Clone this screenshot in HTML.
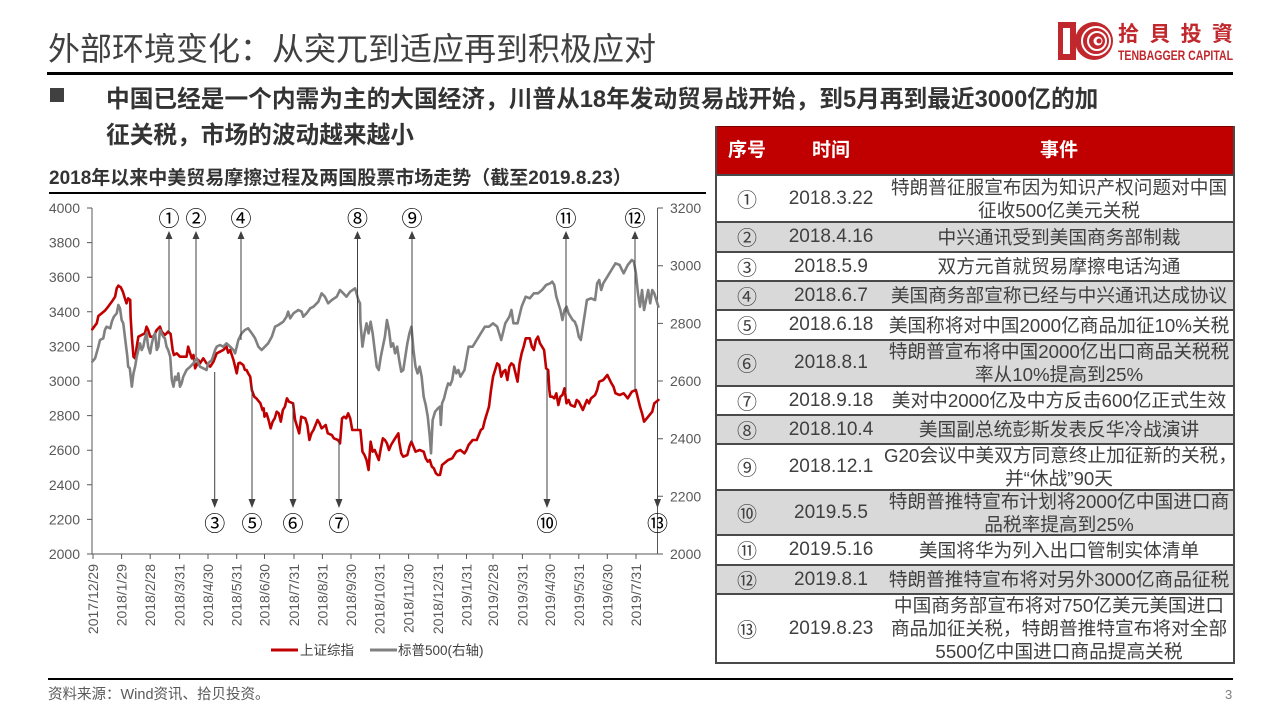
<!DOCTYPE html>
<html><head><meta charset="utf-8">
<style>
*{margin:0;padding:0;box-sizing:border-box}
body{width:1280px;height:720px;position:relative;overflow:hidden;background:#fff;font-family:"Liberation Sans","Noto Sans CJK SC",sans-serif;color:#404040}
.abs{position:absolute;white-space:nowrap}
.row{position:absolute;left:716px;width:518px;display:flex;align-items:center}
.row.g{background:#d9d9d9}
.c1{width:62px;text-align:center;font-family:"Noto Sans CJK SC",sans-serif;font-size:20px;line-height:24px;color:#404040}
.c2{width:106px;text-align:center;font-size:19px;color:#404040}
.c3{width:350px;text-align:center;font-size:18.7px;line-height:23px;color:#404040;white-space:nowrap}
.sep{position:absolute;left:716px;width:518px;height:2px;background:#4a4a4a}
</style></head><body>

<div class="abs" style="left:48px;top:29px;font-size:32px;line-height:36px;color:#404040;font-family:'Noto Sans CJK SC',sans-serif;">外部环境变化：从突兀到适应再到积极应对</div>
<div class="abs" style="left:47px;top:72px;width:1186px;height:3px;background:#000"></div>

<div class="abs" style="left:50px;top:88px;width:14px;height:14px;background:#404040"></div>
<div class="abs" style="left:106px;top:82px;font-size:23.7px;line-height:36px;font-weight:bold;color:#333;">中国已经是一个内需为主的大国经济，川普从18年发动贸易战开始，到5月再到最近3000亿的加<br>征关税，市场的波动越来越小</div>

<div class="abs" style="left:49px;top:167px;font-size:19px;line-height:24px;font-weight:bold;color:#333;">2018年以来中美贸易摩擦过程及两国股票市场走势（截至2019.8.23）</div>
<div class="abs" style="left:49px;top:192px;width:657px;height:1.5px;background:#000"></div>

<!-- table -->
<div class="abs" style="left:715px;top:126px;width:520px;height:50px;background:#c00000;border-top:1px solid #7a0000"></div>
<div class="abs" style="left:716px;top:127px;width:62px;height:48px;line-height:48px;text-align:center;color:#fff;font-weight:bold;font-size:19px">序号</div>
<div class="abs" style="left:778px;top:127px;width:106px;height:48px;line-height:48px;text-align:center;color:#fff;font-weight:bold;font-size:19px">时间</div>
<div class="abs" style="left:884px;top:127px;width:350px;height:48px;line-height:48px;text-align:center;color:#fff;font-weight:bold;font-size:19px">事件</div>

<div class="row" style="top:175px;height:47px"><div class="c1">①</div><div class="c2">2018.3.22</div><div class="c3">特朗普征服宣布因为知识产权问题对中国<br>征收500亿美元关税</div></div>
<div class="row g" style="top:222px;height:30px"><div class="c1">②</div><div class="c2">2018.4.16</div><div class="c3">中兴通讯受到美国商务部制裁</div></div>
<div class="row" style="top:252px;height:29px"><div class="c1">③</div><div class="c2">2018.5.9</div><div class="c3">双方元首就贸易摩擦电话沟通</div></div>
<div class="row g" style="top:281px;height:29px"><div class="c1">④</div><div class="c2">2018.6.7</div><div class="c3">美国商务部宣称已经与中兴通讯达成协议</div></div>
<div class="row" style="top:310px;height:30px"><div class="c1">⑤</div><div class="c2">2018.6.18</div><div class="c3">美国称将对中国2000亿商品加征10%关税</div></div>
<div class="row g" style="top:340px;height:46px"><div class="c1">⑥</div><div class="c2">2018.8.1</div><div class="c3">特朗普宣布将中国2000亿出口商品关税税<br>率从10%提高到25%</div></div>
<div class="row" style="top:386px;height:29px"><div class="c1">⑦</div><div class="c2">2018.9.18</div><div class="c3">美对中2000亿及中方反击600亿正式生效</div></div>
<div class="row g" style="top:415px;height:29px"><div class="c1">⑧</div><div class="c2">2018.10.4</div><div class="c3">美国副总统彭斯发表反华冷战演讲</div></div>
<div class="row" style="top:444px;height:46px"><div class="c1">⑨</div><div class="c2">2018.12.1</div><div class="c3">G20会议中美双方同意终止加征新的关税，<br>并“休战”90天</div></div>
<div class="row g" style="top:490px;height:45px"><div class="c1">⑩</div><div class="c2">2019.5.5</div><div class="c3">特朗普推特宣布计划将2000亿中国进口商<br>品税率提高到25%</div></div>
<div class="row" style="top:535px;height:30px"><div class="c1">⑪</div><div class="c2">2019.5.16</div><div class="c3">美国将华为列入出口管制实体清单</div></div>
<div class="row g" style="top:565px;height:29px"><div class="c1">⑫</div><div class="c2">2019.8.1</div><div class="c3">特朗普推特宣布将对另外3000亿商品征税</div></div>
<div class="row" style="top:594px;height:69px"><div class="c1">⑬</div><div class="c2">2019.8.23</div><div class="c3">中国商务部宣布将对750亿美元美国进口<br>商品加征关税，特朗普推特宣布将对全部<br>5500亿中国进口商品提高关税</div></div>

<div class="sep" style="top:174px"></div>
<div class="sep" style="top:221px"></div>
<div class="sep" style="top:251px"></div>
<div class="sep" style="top:280px"></div>
<div class="sep" style="top:309px"></div>
<div class="sep" style="top:339px"></div>
<div class="sep" style="top:385px"></div>
<div class="sep" style="top:414px"></div>
<div class="sep" style="top:443px"></div>
<div class="sep" style="top:489px"></div>
<div class="sep" style="top:534px"></div>
<div class="sep" style="top:564px"></div>
<div class="sep" style="top:593px"></div>
<div class="sep" style="top:662px"></div>
<div class="abs" style="left:715px;top:126px;width:2px;height:538px;background:#4a4a4a"></div>
<div class="abs" style="left:1233px;top:126px;width:2px;height:538px;background:#4a4a4a"></div>

<!-- footer -->
<div class="abs" style="left:48px;top:678px;width:1185px;height:1.5px;background:#000"></div>
<div class="abs" style="left:48px;top:684px;font-size:14.5px;line-height:22px;color:#595959">资料来源：Wind资讯、拾贝投资。</div>
<div class="abs" style="left:1225px;top:686px;font-size:13px;line-height:18px;color:#808080">3</div>

<svg class="abs" style="left:0;top:0" width="1280" height="720" xmlns="http://www.w3.org/2000/svg">
<!-- logo -->
<g>
<rect x="1058" y="22" width="18" height="38" fill="#c0282d"/>
<rect x="1063" y="28" width="7" height="26" fill="#fff"/>
<circle cx="1094" cy="41" r="19" fill="#c0282d"/>
<circle cx="1096" cy="41" r="14" fill="none" stroke="#fff" stroke-width="2"/>
<circle cx="1097" cy="41" r="9" fill="none" stroke="#fff" stroke-width="2"/>
<circle cx="1098" cy="41" r="4.5" fill="#fff"/>
<circle cx="1099" cy="41" r="2.5" fill="#c0282d"/>
<text x="1118" y="41" font-family="Noto Sans CJK TC,sans-serif" font-weight="bold" font-size="21" fill="#c0282d" textLength="115" lengthAdjust="spacing">拾貝投資</text>
<text x="1118" y="60" font-family="Liberation Sans,sans-serif" font-weight="bold" font-size="14" fill="#c0282d" textLength="115" lengthAdjust="spacingAndGlyphs">TENBAGGER CAPITAL</text>
</g>

<!-- axes -->
<g stroke="#595959" stroke-width="1" fill="none">
<line x1="92" y1="208" x2="92" y2="554"/>
<line x1="657.5" y1="208" x2="657.5" y2="554"/>
<line x1="92" y1="554" x2="657.5" y2="554"/>
<path d="M87 208H92M87 242.6H92M87 277.2H92M87 311.8H92M87 346.4H92M87 381H92M87 415.6H92M87 450.2H92M87 484.8H92M87 519.4H92M87 554H92"/>
<path d="M657.5 208H663M657.5 265.7H663M657.5 323.4H663M657.5 381H663M657.5 438.7H663M657.5 496.3H663M657.5 554H663"/>
<path d="M93 554V559M121.6 554V559M150.2 554V559M179.6 554V559M208 554V559M236.7 554V559M264.5 554V559M294 554V559M322.4 554V559M351 554V559M379.6 554V559M408.6 554V559M438 554V559M466.5 554V559M493 554V559M522.4 554V559M550 554V559M578.8 554V559M607.3 554V559M636 554V559"/>
</g>
<g font-family="Liberation Sans,sans-serif" font-size="14" fill="#595959" text-anchor="end">
<text x="80" y="213">4000</text><text x="80" y="247.6">3800</text><text x="80" y="282.2">3600</text><text x="80" y="316.8">3400</text><text x="80" y="351.4">3200</text><text x="80" y="386">3000</text><text x="80" y="420.6">2800</text><text x="80" y="455.2">2600</text><text x="80" y="489.8">2400</text><text x="80" y="524.4">2200</text><text x="80" y="559">2000</text>
</g>
<g font-family="Liberation Sans,sans-serif" font-size="14" fill="#595959">
<text x="670" y="213">3200</text><text x="670" y="270.7">3000</text><text x="670" y="328.4">2800</text><text x="670" y="386">2600</text><text x="670" y="443.7">2400</text><text x="670" y="501.3">2200</text><text x="670" y="559">2000</text>
</g>
<g font-family="Liberation Sans,sans-serif" font-size="14" fill="#595959" text-anchor="end">
<text transform="translate(98,564) rotate(-90)">2017/12/29</text>
<text transform="translate(126.6,564) rotate(-90)">2018/1/29</text>
<text transform="translate(155.2,564) rotate(-90)">2018/2/28</text>
<text transform="translate(184.6,564) rotate(-90)">2018/3/31</text>
<text transform="translate(213,564) rotate(-90)">2018/4/30</text>
<text transform="translate(241.7,564) rotate(-90)">2018/5/31</text>
<text transform="translate(269.5,564) rotate(-90)">2018/6/30</text>
<text transform="translate(299,564) rotate(-90)">2018/7/31</text>
<text transform="translate(327.4,564) rotate(-90)">2018/8/31</text>
<text transform="translate(356,564) rotate(-90)">2018/9/30</text>
<text transform="translate(384.6,564) rotate(-90)">2018/10/31</text>
<text transform="translate(413.6,564) rotate(-90)">2018/11/30</text>
<text transform="translate(443,564) rotate(-90)">2018/12/31</text>
<text transform="translate(471.5,564) rotate(-90)">2019/1/31</text>
<text transform="translate(498,564) rotate(-90)">2019/2/28</text>
<text transform="translate(527.4,564) rotate(-90)">2019/3/31</text>
<text transform="translate(555,564) rotate(-90)">2019/4/30</text>
<text transform="translate(583.8,564) rotate(-90)">2019/5/31</text>
<text transform="translate(612.3,564) rotate(-90)">2019/6/30</text>
<text transform="translate(641,564) rotate(-90)">2019/7/31</text>
</g>

<!-- series -->
<g transform="translate(40,190) scale(0.408163,0.333333)" fill="none" stroke-linejoin="round" stroke-linecap="round">
<polyline vector-effect="non-scaling-stroke" stroke="#c00000" stroke-width="2.6" points="128,418 139,400 143,378 151,370 159,362 167,350 176,335 184,320 188,295 192,287 198,292 203,305 208,325 212,340 216,325 221,330 222,380 225,440 229,500 233,505 237,470 241,440 249,435 257,430 261,410 265,420 270,440 278,440 286,420 294,410 298,425 306,435 314,425 320,432 325,480 328,495 335,490 343,500 351,500 359,500 363,470 368,490 372,505 376,495 380,535 384,525 388,510 392,520 400,505 408,520 417,530 425,515 433,490 441,485 449,480 457,470 461,488 466,480 470,495 474,510 478,530 482,550 486,520 490,518 498,525 502,540 506,540 510,550 515,560 519,600 525,620 530,625 540,640 545,660 548,655 550,680 555,670 560,690 565,715 570,695 575,685 580,665 585,670 590,695 595,660 600,650 605,625 610,635 620,640 625,690 630,710 635,730 640,680 650,685 655,705 660,750 665,730 670,720 680,690 685,700 690,715 700,705 705,730 715,735 720,745 730,750 735,760 740,685 745,680 750,685 755,670 760,685 765,720 780,720 785,720 790,785 795,795 800,810 805,840 810,755 815,785 820,780 830,810 835,775 840,745 845,750 850,760 855,780 860,765 870,745 878,730 880,755 885,790 890,800 900,795 905,770 910,755 915,770 920,785 930,780 940,785 945,805 950,815 955,810 960,830 965,835 970,850 975,855 980,855 985,825 990,820 1000,810 1010,805 1015,795 1020,785 1030,780 1040,790 1045,780 1050,765 1060,750 1070,750 1075,735 1080,720 1085,715 1090,690 1095,670 1100,650 1105,600 1110,560 1115,540 1120,520 1125,525 1130,560 1135,545 1140,540 1145,570 1150,530 1155,520 1160,525 1165,550 1170,575 1175,520 1180,490 1185,470 1190,445 1200,445 1205,470 1210,480 1215,450 1220,440 1225,460 1235,480 1240,535 1245,540 1248,600 1250,620 1255,620 1260,625 1265,610 1270,645 1275,620 1280,615 1285,595 1290,640 1295,630 1300,645 1310,650 1315,630 1320,635 1330,660 1335,645 1340,630 1345,640 1350,625 1360,615 1365,600 1370,575 1380,570 1390,555 1400,580 1405,590 1410,610 1420,615 1430,610 1440,625 1450,605 1460,600 1465,625 1470,650 1475,670 1480,695 1490,680 1500,665 1505,640 1515,630"/>
<polyline vector-effect="non-scaling-stroke" stroke="#808080" stroke-width="2.6" points="128,515 135,505 143,470 147,450 155,445 159,420 163,410 172,415 176,395 181,380 188,370 192,345 196,355 200,390 204,400 208,440 214,500 216,530 220,535 225,590 229,550 233,530 237,500 241,480 245,460 249,480 253,470 257,445 261,430 265,470 270,490 274,460 278,440 282,430 286,480 290,470 294,420 298,430 302,440 306,445 310,470 314,480 319,500 323,570 327,590 331,560 335,570 339,550 343,590 347,580 351,560 359,540 368,530 376,520 380,510 384,505 388,520 392,530 400,535 408,540 412,520 421,510 429,480 433,470 441,465 449,470 457,460 466,470 474,480 478,490 486,450 494,430 502,420 510,415 519,430 527,445 535,470 543,480 551,470 559,460 568,440 576,410 584,405 596,395 604,380 608,365 613,385 621,370 633,360 641,365 645,380 653,370 662,355 670,350 682,335 690,310 698,320 706,340 715,330 727,320 735,300 743,310 751,320 760,305 772,295 780,330 784,340 785,395 790,470 795,430 800,400 805,430 810,395 815,430 820,480 825,530 830,540 835,500 840,470 845,440 850,390 855,420 860,470 865,460 870,490 875,470 880,510 885,545 890,540 895,500 900,460 905,430 910,410 915,480 920,530 925,550 930,530 935,560 940,620 945,645 950,680 955,740 958,790 962,690 968,665 975,655 980,650 982,705 985,640 990,625 995,600 1000,580 1005,585 1010,570 1015,530 1020,550 1025,540 1030,560 1040,540 1050,470 1060,470 1070,450 1080,430 1090,410 1100,410 1110,400 1120,410 1130,450 1140,400 1150,380 1155,360 1160,400 1170,400 1180,350 1190,320 1200,325 1210,310 1220,310 1230,300 1240,285 1250,280 1255,275 1260,285 1265,320 1275,360 1280,390 1285,360 1290,350 1295,370 1300,380 1305,390 1310,395 1315,410 1320,440 1325,450 1330,410 1340,330 1350,325 1360,330 1365,280 1370,270 1375,300 1380,280 1390,260 1400,240 1410,220 1420,225 1430,250 1440,225 1450,210 1455,215 1460,250 1465,310 1470,350 1475,300 1480,360 1490,300 1495,340 1500,300 1505,310 1515,350"/>
</g>

<!-- arrows -->
<g stroke="#404040" stroke-width="1" fill="none">
<path d="M169 238V333M196 238V357M241 238V340M357.5 238V429M412 238V443M566 238V392M635 238V390"/>
<path d="M214.7 372V500M252 385V500M293 403V500M339 440V500M547 370V500M657.5 403V500"/>
</g>
<g fill="#404040">
<path d="M165.5 239L169 231L172.5 239Z"/><path d="M192.5 239L196 231L199.5 239Z"/><path d="M237.5 239L241 231L244.5 239Z"/><path d="M354 239L357.5 231L361 239Z"/><path d="M408.5 239L412 231L415.5 239Z"/><path d="M562.5 239L566 231L569.5 239Z"/><path d="M631.5 239L635 231L638.5 239Z"/>
<path d="M211.2 499L214.7 508L218.2 499Z"/><path d="M248.5 499L252 508L255.5 499Z"/><path d="M289.5 499L293 508L296.5 499Z"/><path d="M335.5 499L339 508L342.5 499Z"/><path d="M543.5 499L547 508L550.5 499Z"/><path d="M654 499L657.5 508L661 499Z"/>
</g>
<g font-family="Noto Sans CJK SC,sans-serif" font-size="21" fill="#000" text-anchor="middle">
<text x="169" y="226">①</text><text x="196" y="226">②</text><text x="241" y="226">④</text><text x="357.5" y="226">⑧</text><text x="412" y="226">⑨</text><text x="566" y="226">⑪</text><text x="635" y="226">⑫</text>
<text x="214.7" y="531">③</text><text x="252" y="531">⑤</text><text x="293" y="531">⑥</text><text x="339" y="531">⑦</text><text x="547" y="531">⑩</text><text x="657.5" y="531">⑬</text>
</g>

<!-- legend -->
<line x1="271" y1="650" x2="298" y2="650" stroke="#c00000" stroke-width="3"/>
<text x="300" y="655" font-family="Liberation Sans,Noto Sans CJK SC,sans-serif" font-size="13.5" fill="#404040">上证综指</text>
<line x1="370" y1="650" x2="397" y2="650" stroke="#808080" stroke-width="3"/>
<text x="398" y="655" font-family="Liberation Sans,Noto Sans CJK SC,sans-serif" font-size="13.5" fill="#404040">标普500(右轴)</text>
</svg>
</body></html>
